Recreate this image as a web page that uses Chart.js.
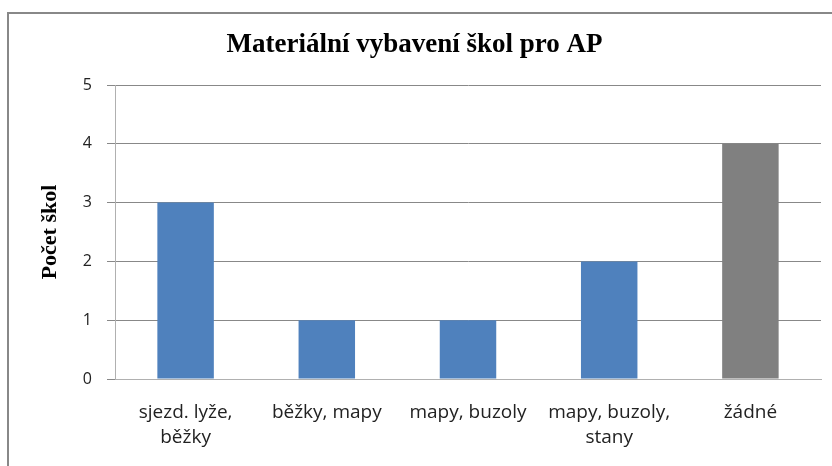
<!DOCTYPE html>
<html>
<head>
<meta charset="utf-8">
<script src="https://cdn.jsdelivr.net/npm/chart.js@4"></script>
<style>
  html, body { margin: 0; padding: 0; background: #fff; }
</style>
</head>
<body>
<canvas id="myBarChart" width="832" height="466"></canvas>
<script>
// -- data
var categories = [["sjezd. lyže,", "běžky"], "běžky, mapy", "mapy, buzoly", ["mapy, buzoly,", "stany"], "žádné"];
var counts = [3, 1, 1, 2, 4];
var barColors = ['#4F81BD', '#4F81BD', '#4F81BD', '#4F81BD', '#808080'];
var yTicks = [0, 1, 2, 3, 4, 5];

// outer frame like the spreadsheet chart border
var framePlugin = {
  id: 'frame',
  beforeDraw: function(chart) {
    var c = chart.ctx;
    c.save();
    c.fillStyle = '#fff';
    c.fillRect(0, 0, chart.width, chart.height);
    c.strokeStyle = '#888';
    c.lineWidth = 2;
    c.strokeRect(8, 13, 840, 470);
    c.restore();
  }
};

var ctx = document.getElementById("myBarChart");
var myBarChart = new Chart(ctx, {
  type: 'bar',
  data: {
    labels: categories,
    datasets: [{
      data: counts,
      backgroundColor: barColors,
      barPercentage: 0.4,
      categoryPercentage: 1.0,
    }],
  },
  options: {
    responsive: false,
    animation: false,
    layout: { padding: { left: 8, right: 11, top: 0, bottom: 0 } },
    plugins: {
      legend: { display: false },
      tooltip: { enabled: false },
      title: {
        display: true,
        text: 'Materiální vybavení škol pro AP',
        color: '#000',
        font: { family: 'Liberation Serif', size: 27, weight: 'bold', lineHeight: 1.2 },
        padding: { top: 29, bottom: 23.6 },
      },
    },
    scales: {
      x: {
        grid: { display: false, drawTicks: false },
        border: { display: true, color: '#b0b0b0' },
        ticks: {
          color: '#222',
          font: { family: 'Open Sans', size: 19, lineHeight: 1.32 },
          padding: 21,
          maxRotation: 0,
          autoSkip: false,
        },
        afterFit: function(s) { s.height = 87; },
      },
      y: {
        min: 0,
        max: 5,
        afterBuildTicks: function(s) { s.ticks = yTicks.map(function(v) { return { value: v }; }); },
        grid: { color: '#888', tickLength: 8 },
        border: { display: true, color: '#b0b0b0' },
        ticks: {
          color: '#222',
          font: { family: 'Open Sans', size: 16 },
          padding: 15,
        },
        title: {
          display: true,
          text: 'Počet škol',
          color: '#000',
          font: { family: 'Liberation Serif', size: 22, weight: 'bold', lineHeight: 1.2 },
          padding: { top: 29, bottom: 0 },
        },
        afterFit: function(s) { s.width = 107; },
      },
    },
  },
  plugins: [framePlugin],
});
</script>
</body>
</html>
